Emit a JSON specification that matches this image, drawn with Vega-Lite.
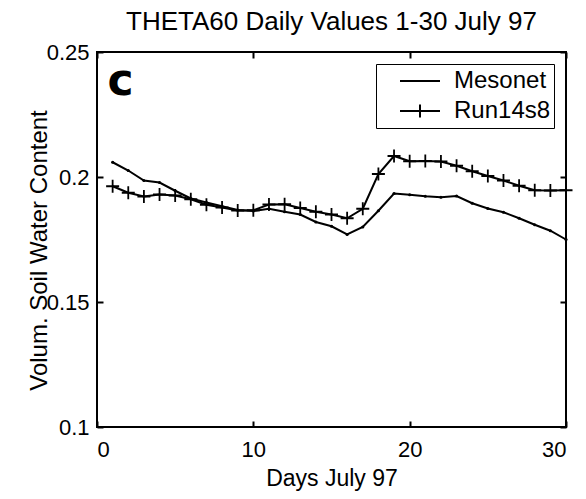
{
  "$schema": "https://vega.github.io/schema/vega-lite/v6.json",
  "width": 469,
  "height": 375,
  "autosize": "none",
  "padding": {"left": 97, "top": 52, "right": 20, "bottom": 72},
  "background": "white",
  "title": {"text": "THETA60 Daily Values 1-30 July 97", "font": "Liberation Sans", "fontSize": 26, "fontWeight": "normal", "color": "black", "baseline": "bottom", "offset": 0, "dy": 20, "anchor": "middle"},
  "config": {
    "view": {"stroke": "black", "strokeWidth": 2},
    "axis": {"domain": false, "grid": false, "tickColor": "black", "tickWidth": 2, "tickSize": 6, "labelColor": "black", "labelFont": "Liberation Sans", "labelFontSize": 22, "titleFont": "Liberation Sans", "titleFontSize": 23, "titleFontWeight": "normal", "titleColor": "black"}
  },
  "datasets": {
    "soil": [
      {"day": 1, "series": "Mesonet", "value": 0.2059},
      {"day": 2, "series": "Mesonet", "value": 0.2026},
      {"day": 3, "series": "Mesonet", "value": 0.1986},
      {"day": 4, "series": "Mesonet", "value": 0.1978},
      {"day": 5, "series": "Mesonet", "value": 0.1945},
      {"day": 6, "series": "Mesonet", "value": 0.1914},
      {"day": 7, "series": "Mesonet", "value": 0.1898},
      {"day": 8, "series": "Mesonet", "value": 0.1883},
      {"day": 9, "series": "Mesonet", "value": 0.1868},
      {"day": 10, "series": "Mesonet", "value": 0.1864},
      {"day": 11, "series": "Mesonet", "value": 0.1873},
      {"day": 12, "series": "Mesonet", "value": 0.1861},
      {"day": 13, "series": "Mesonet", "value": 0.1850},
      {"day": 14, "series": "Mesonet", "value": 0.1820},
      {"day": 15, "series": "Mesonet", "value": 0.1803},
      {"day": 16, "series": "Mesonet", "value": 0.1770},
      {"day": 17, "series": "Mesonet", "value": 0.1800},
      {"day": 18, "series": "Mesonet", "value": 0.1865},
      {"day": 19, "series": "Mesonet", "value": 0.1934},
      {"day": 20, "series": "Mesonet", "value": 0.1929},
      {"day": 21, "series": "Mesonet", "value": 0.1923},
      {"day": 22, "series": "Mesonet", "value": 0.1919},
      {"day": 23, "series": "Mesonet", "value": 0.1924},
      {"day": 24, "series": "Mesonet", "value": 0.1895},
      {"day": 25, "series": "Mesonet", "value": 0.1874},
      {"day": 26, "series": "Mesonet", "value": 0.1859},
      {"day": 27, "series": "Mesonet", "value": 0.1835},
      {"day": 28, "series": "Mesonet", "value": 0.1809},
      {"day": 29, "series": "Mesonet", "value": 0.1785},
      {"day": 30, "series": "Mesonet", "value": 0.1750},
      {"day": 1, "series": "Run14s8", "value": 0.1963},
      {"day": 2, "series": "Run14s8", "value": 0.1937},
      {"day": 3, "series": "Run14s8", "value": 0.1922},
      {"day": 4, "series": "Run14s8", "value": 0.1930},
      {"day": 5, "series": "Run14s8", "value": 0.1926},
      {"day": 6, "series": "Run14s8", "value": 0.1911},
      {"day": 7, "series": "Run14s8", "value": 0.1889},
      {"day": 8, "series": "Run14s8", "value": 0.1878},
      {"day": 9, "series": "Run14s8", "value": 0.1866},
      {"day": 10, "series": "Run14s8", "value": 0.1867},
      {"day": 11, "series": "Run14s8", "value": 0.1890},
      {"day": 12, "series": "Run14s8", "value": 0.1891},
      {"day": 13, "series": "Run14s8", "value": 0.1876},
      {"day": 14, "series": "Run14s8", "value": 0.1861},
      {"day": 15, "series": "Run14s8", "value": 0.1850},
      {"day": 16, "series": "Run14s8", "value": 0.1835},
      {"day": 17, "series": "Run14s8", "value": 0.1873},
      {"day": 18, "series": "Run14s8", "value": 0.2012},
      {"day": 19, "series": "Run14s8", "value": 0.2084},
      {"day": 20, "series": "Run14s8", "value": 0.2063},
      {"day": 21, "series": "Run14s8", "value": 0.2064},
      {"day": 22, "series": "Run14s8", "value": 0.2062},
      {"day": 23, "series": "Run14s8", "value": 0.2045},
      {"day": 24, "series": "Run14s8", "value": 0.2023},
      {"day": 25, "series": "Run14s8", "value": 0.2004},
      {"day": 26, "series": "Run14s8", "value": 0.1986},
      {"day": 27, "series": "Run14s8", "value": 0.1965},
      {"day": 28, "series": "Run14s8", "value": 0.1947},
      {"day": 29, "series": "Run14s8", "value": 0.1946},
      {"day": 30, "series": "Run14s8", "value": 0.1947}
    ]
  },
  "data": {"name": "soil"},
  "resolve": {"axis": {"x": "independent", "y": "independent"}},
  "layer": [
    {
      "mark": {"type": "line", "strokeWidth": 2},
      "encoding": {
        "x": {"field": "day", "type": "quantitative", "scale": {"domain": [0, 30], "nice": false}, "axis": {"orient": "bottom", "values": [0, 10, 20, 30], "ticks": false, "title": "Days July 97", "labelPadding": 12, "titleY": 51, "titleBaseline": "middle"}},
        "y": {"field": "value", "type": "quantitative", "scale": {"domain": [0.1, 0.25], "nice": false, "zero": false}, "axis": {"orient": "left", "values": [0.1, 0.15, 0.2, 0.25], "ticks": false, "format": ".2~f", "title": "Volum. Soil Water Content", "labelPadding": 8, "titleX": -58, "titleY": 198, "titleAngle": -90, "titleBaseline": "middle", "titleAlign": "center", "titleFontSize": 24}},
        "color": {
          "field": "series", "type": "nominal",
          "scale": {"domain": ["Mesonet", "Run14s8"], "range": ["black", "black"]},
          "legend": {
            "title": null, "orient": "top-right", "offset": 12, "padding": 3,
            "strokeColor": "black", "fillColor": "white",
            "labelFont": "Liberation Sans", "labelFontSize": 24, "labelColor": "black",
            "symbolType": "M-1,0L1,0", "symbolSize": 1600, "symbolStrokeWidth": 2, "symbolStrokeColor": "black",
            "symbolOffset": 20, "labelOffset": 13, "clipHeight": 28, "rowPadding": 2,
            "encode": {"symbols": {"update": {"shape": [{"test": "datum.value === 'Run14s8'", "value": "M-1,0L1,0M0,-0.32L0,0.32"}, {"value": "M-1,0L1,0"}]}}}
          }
        }
      }
    },
    {
      "transform": [{"filter": "datum.series === 'Run14s8'"}],
      "mark": {"type": "point", "shape": "M-1,0L1,0M0,-1L0,1", "filled": false, "stroke": "black", "strokeWidth": 1.8, "size": 169, "opacity": 1},
      "encoding": {
        "x": {"field": "day", "type": "quantitative", "axis": {"orient": "top", "offset": -6, "values": [0, 10, 20, 30], "labels": false, "title": null}},
        "y": {"field": "value", "type": "quantitative", "axis": {"orient": "right", "offset": -6, "values": [0.1, 0.15, 0.2, 0.25], "labels": false, "title": null}}
      }
    },
    {
      "transform": [{"filter": "datum.series === 'Mesonet'"}],
      "mark": {"type": "circle", "size": 10, "color": "black", "opacity": 1},
      "encoding": {
        "x": {"field": "day", "type": "quantitative", "axis": {"orient": "bottom", "offset": -6, "values": [0, 10, 20, 30], "labels": false, "title": null}},
        "y": {"field": "value", "type": "quantitative", "axis": {"orient": "left", "offset": -6, "values": [0.1, 0.15, 0.2, 0.25], "labels": false, "title": null}}
      }
    },
    {
      "data": {"values": [{"day": 1.5, "value": 0.2328, "label": "c"}]},
      "mark": {"type": "text", "font": "DejaVu Sans", "fontWeight": "bold", "fontSize": 44, "align": "center", "baseline": "alphabetic", "color": "black"},
      "encoding": {
        "x": {"field": "day", "type": "quantitative", "axis": null},
        "y": {"field": "value", "type": "quantitative", "axis": null},
        "text": {"field": "label"}
      }
    }
  ]
}
